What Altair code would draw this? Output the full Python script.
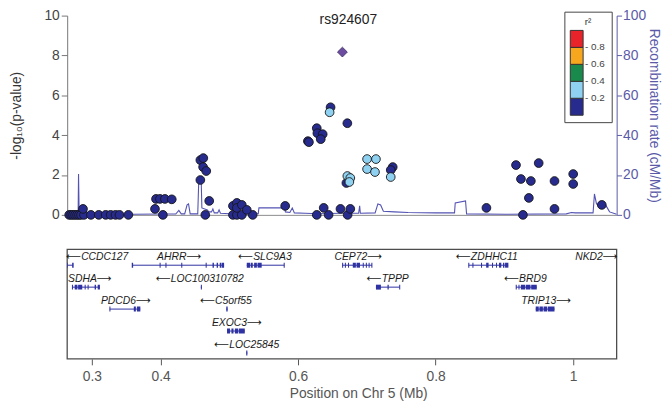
import altair as alt
import pandas as pd

FONT = "Liberation Sans"

# ---------------- association results ----------------
snp_pos = [0.2670, 0.2699, 0.2727, 0.2756, 0.2785, 0.2813, 0.2842, 0.2871, 0.2885,
           0.2986, 0.3100, 0.3201, 0.3273, 0.3344, 0.3402, 0.3531,
           0.3918, 0.3933, 0.3990, 0.4062, 0.4162, 0.4033,
           0.4578, 0.4621, 0.4618, 0.4664, 0.4578, 0.4707, 0.4650,
           0.5052, 0.5109, 0.5109, 0.5181, 0.5253, 0.5052, 0.5109, 0.5181, 0.5339,
           0.5812, 0.6271, 0.6372, 0.6443,
           0.6142, 0.6157, 0.6271, 0.6280, 0.6357, 0.6329,
           0.6472, 0.6458, 0.6716, 0.6616, 0.6759, 0.6720,
           0.6702, 0.6716, 0.6759, 0.6745,
           0.7003, 0.7132, 0.7003, 0.7118,
           0.7376, 0.7347, 0.7347,
           0.8739, 0.9169, 0.9241, 0.9385, 0.9499, 0.9356, 0.9270,
           0.9729, 0.9729, 1.0001, 1.0001, 1.0417]
snp_logp = [0, 0, 0, 0, 0, 0, 0, 0.3, 0,
            0, 0, 0, 0, 0, 0, 0,
            0.3, 0.8, 0.8, 0.8, 0.78, 0,
            2.75, 2.85, 2.4, 2.2, 1.75, 0.7, 0,
            0.45, 0.6, 0.35, 0.5, 0.25, 0, 0, 0, 0,
            0.45, 0, 0.35, 0,
            3.7, 3.65, 4.35, 4.1, 4.05, 3.8,
            5.4, 5.15, 4.6, 0.3, 0.3, 0,
            1.6, 1.95, 1.85, 1.65,
            2.8, 2.8, 2.3, 2.15,
            2.4, 2.25, 1.9,
            0.35, 2.5, 1.8, 1.7, 2.6, 0.85, 0,
            1.7, 0.3, 2.05, 1.55, 0.5]
snp_r2 = [0.05, 0.05, 0.05, 0.05, 0.05, 0.05, 0.05, 0.1, 0.05,
          0.05, 0.05, 0.05, 0.05, 0.05, 0.05, 0.05,
          0.1, 0.1, 0.1, 0.1, 0.1, 0.05,
          0.1, 0.1, 0.1, 0.1, 0.1, 0.1, 0.05,
          0.1, 0.1, 0.1, 0.1, 0.1, 0.05, 0.05, 0.05, 0.05,
          0.1, 0.05, 0.1, 0.05,
          0.1, 0.1, 0.15, 0.15, 0.15, 0.15,
          0.15, 0.3, 0.15, 0.1, 0.1, 0.05,
          0.15, 0.3, 0.3, 0.3,
          0.3, 0.3, 0.3, 0.3,
          0.15, 0.15, 0.3,
          0.05, 0.1, 0.1, 0.1, 0.1, 0.1, 0.05,
          0.1, 0.05, 0.1, 0.1, 0.05]

lead_snp = ["rs924607"]
lead_pos = [0.6644]
lead_logp = [8.17]

# ---------------- recombination rate ----------------
rec_pos = [0.2641, 0.2800, 0.2806, 0.2815, 0.2850, 0.2880, 0.3000, 0.3600, 0.4000,
           0.4220, 0.4265, 0.4300, 0.4350, 0.4385, 0.4406, 0.4430, 0.4540,
           0.4555, 0.4590, 0.4600, 0.4680, 0.4700, 0.4740, 0.4760, 0.4780,
           0.4830, 0.4850, 0.4870, 0.5000, 0.5300, 0.5420, 0.5430, 0.5760,
           0.5790, 0.5815, 0.5880, 0.5915, 0.5945, 0.6100, 0.6300, 0.6600,
           0.6880, 0.6895, 0.6905, 0.7120, 0.7160, 0.7200, 0.7240, 0.7400,
           0.7600, 0.8000, 0.8275, 0.8285, 0.8435, 0.8450, 0.9000, 0.9900,
           0.9975, 1.0030, 1.0290, 1.0310, 1.0340, 1.0420, 1.0450, 1.0480,
           1.0530, 1.0633]
rec_rate = [0.3, 0.3, 20.5, 1.0, 3.5, 0.8, 0.5, 0.3, 0.4,
            0.4, 2.2, 0.5, 0.5, 5.0, 5.5, 0.5, 0.5,
            17.5, 17.5, 3.5, 2.5, 1.5, 1.5, 3.0, 1.0,
            1.0, 2.5, 0.8, 0.6, 0.6, 0.6, 3.5, 3.5,
            5.5, 1.5, 1.2, 3.5, 1.0, 0.8, 0.6, 0.8,
            0.8, 4.5, 0.8, 1.0, 5.5, 5.0, 1.8, 1.5,
            1.2, 1.0, 1.0, 6.0, 7.0, 0.5, 0.3, 0.5,
            1.2, 1.0, 1.0, 10.5, 5.5, 5.0, 6.0, 4.5,
            1.5, 0.3]

# ---------------- genes ----------------
gene_name = ["CCDC127", "AHRR", "SLC9A3", "CEP72", "ZDHHC11", "NKD2",
             "SDHA", "LOC100310782", "TPPP", "BRD9",
             "PDCD6", "C5orf55", "TRIP13", "EXOC3", "LOC25845"]
gene_start = [0.2600, 0.3588, 0.5253, 0.6644, 0.8481, 1.0750,
              0.2713, 0.4585, 0.7132, 0.9169,
              0.3258, 0.4955, 0.9456, 0.4966, 0.5245]
gene_end = [0.2727, 0.4923, 0.5798, 0.7075, 0.9055, 1.1200,
            0.3115, 0.4600, 0.7476, 0.9471,
            0.3703, 0.4975, 0.9729, 0.5224, 0.5262]
gene_row = [1, 1, 1, 1, 1, 1, 2, 2, 2, 2, 3, 3, 3, 4, 5]
gene_strand = ["-", "+", "-", "+", "-", "+", "+", "-", "-", "-", "+", "-", "+", "+", "-"]
gene_label_pos = [0.3079, 0.4270, 0.5518, 0.6874, 0.8746, 1.0339,
                  0.2971, 0.4571, 0.7304, 0.9306,
                  0.3495, 0.4951, 0.9607, 0.5109, 0.5253]

exon_gene = (["CCDC127"] * 2 + ["AHRR"] * 9 + ["SLC9A3"] * 5 + ["CEP72"] * 9 +
             ["ZDHHC11"] * 9 + ["SDHA"] * 7 + ["LOC100310782"] + ["TPPP"] * 3 +
             ["BRD9"] * 5 + ["PDCD6"] * 3 + ["C5orf55"] + ["TRIP13"] * 4 +
             ["EXOC3"] * 4 + ["LOC25845"])
exon_start = [0.2600, 0.2713,
              0.3580, 0.3985, 0.4070, 0.4300, 0.4655, 0.4755, 0.4815, 0.4860, 0.4892,
              0.5253, 0.5310, 0.5360, 0.5410, 0.5790,
              0.6640, 0.6680, 0.6725, 0.6795, 0.6850, 0.6940, 0.6985, 0.7025, 0.7065,
              0.8475, 0.8535, 0.8660, 0.8735, 0.8820, 0.8878, 0.8922, 0.8980, 0.9010,
              0.2710, 0.2750, 0.2800, 0.2895, 0.2938, 0.3040, 0.3085,
              0.4585,
              0.7132, 0.7300, 0.7470,
              0.9165, 0.9205, 0.9240, 0.9310, 0.9390,
              0.3255, 0.3610, 0.3655,
              0.4955,
              0.9456, 0.9510, 0.9570, 0.9630,
              0.4966, 0.5030, 0.5080, 0.5140,
              0.5245]
exon_end = [0.2650, 0.2735,
            0.3600, 0.4000, 0.4085, 0.4315, 0.4670, 0.4775, 0.4835, 0.4885, 0.4923,
            0.5300, 0.5340, 0.5400, 0.5470, 0.5805,
            0.6655, 0.6695, 0.6740, 0.6840, 0.6900, 0.6955, 0.7000, 0.7040, 0.7080,
            0.8490, 0.8550, 0.8675, 0.8770, 0.8835, 0.8893, 0.8955, 0.9000, 0.9058,
            0.2725, 0.2790, 0.2860, 0.2910, 0.2953, 0.3060, 0.3117,
            0.4600,
            0.7204, 0.7318, 0.7485,
            0.9180, 0.9220, 0.9300, 0.9380, 0.9471,
            0.3270, 0.3640, 0.3705,
            0.4975,
            0.9500, 0.9560, 0.9620, 0.9729,
            0.5010, 0.5060, 0.5130, 0.5224,
            0.5262]

r2_breaks = [0.2, 0.4, 0.6, 0.8]
r2_colors = ["#272b8d", "#8fd1f1", "#1a8a4c", "#f6a71e", "#e8232a"]

x_domain = [0.2641, 1.0633]
x_ticks = [0.3, 0.4, 0.6, 0.8, 1.0]
p_ticks = [0, 2, 4, 6, 8, 10]
rec_ticks = [0, 20, 40, 60, 80, 100]

# ---------------- tables ----------------
snp_df = pd.DataFrame({"pos": snp_pos, "logp": snp_logp, "r2": snp_r2}).sort_values("r2", kind="stable")
lead_df = pd.DataFrame({"snp": lead_snp, "pos": lead_pos, "logp": lead_logp})
rec_df = pd.DataFrame({"pos": rec_pos, "rate": rec_rate})
gene_df = pd.DataFrame({"name": gene_name, "start": gene_start, "end": gene_end,
                        "row": gene_row, "strand": gene_strand, "label_pos": gene_label_pos})
gene_df["label"] = [("\u27f5" + n) if s == "-" else (n + "\u27f6")
                    for n, s in zip(gene_df["name"], gene_df["strand"])]
exon_df = pd.DataFrame({"name": exon_gene, "start": exon_start, "end": exon_end}).merge(
    gene_df[["name", "row"]], on="name")

W, H1, H2 = 557, 202, 111
RECOMB = "#5353b4"
RAX = "#5a5aa8"
GENE = "#2f32a2"

xs = alt.Scale(domain=x_domain, nice=False, zero=False)
x_top_axis = alt.Axis(title=None, labels=False, ticks=False, grid=False,
                      domainColor="#8a8a8a", domainWidth=1)

recomb = alt.Chart(rec_df).mark_line(color=RECOMB, strokeWidth=1.1, clip=True).encode(
    x=alt.X("pos:Q", scale=xs, axis=x_top_axis),
    y=alt.Y("rate:Q", scale=alt.Scale(domain=[0, 100], nice=False),
            axis=alt.Axis(orient="right", values=rec_ticks, title="Recombination rate (cM/Mb)",
                          grid=False, domainColor=RAX, tickColor=RAX, labelColor=RAX,
                          titleColor=RAX, tickSize=5, labelPadding=1, titlePadding=1,
                          labelFontSize=14, titleFontSize=14, titleFontWeight="normal")),
)

pts = alt.Chart(snp_df).mark_circle(size=78, stroke="#151515", strokeWidth=0.9, opacity=1).encode(
    x=alt.X("pos:Q", scale=xs, axis=x_top_axis),
    y=alt.Y("logp:Q", scale=alt.Scale(domain=[0, 10], nice=False),
            axis=alt.Axis(orient="left", values=p_ticks, title="-log\u2081\u2080(p-value)",
                          grid=False, domainColor="#777777", tickColor="#777777",
                          labelColor="#444444", titleColor="#333333", tickSize=6,
                          labelPadding=2, titlePadding=21, labelFontSize=14,
                          titleFontSize=14, titleFontWeight="normal")),
    color=alt.Color("r2:Q",
                    scale=alt.Scale(type="threshold", domain=r2_breaks, range=r2_colors),
                    legend=alt.Legend(type="gradient", title="r\u00b2", orient="none",
                                      legendX=504, legendY=-4, direction="vertical",
                                      gradientLength=86, gradientThickness=13,
                                      gradientStrokeColor="#333333", gradientStrokeWidth=1,
                                      fillColor="white", strokeColor="#444444", padding=6,
                                      titleFontSize=10, titleFontWeight="normal",
                                      titleAnchor="middle", titlePadding=3,
                                      titleColor="#333333", labelFontSize=10, labelOffset=2,
                                      labelColor="#444444",
                                      labelExpr="(isValid(datum.label) && datum.label != 'null' && datum.label != '') ? '- ' + datum.label : ''")),
)

lead = alt.Chart(lead_df).mark_point(shape="diamond", filled=True, size=100, color="#6b4c9e",
                                     stroke="#3a2a62", strokeWidth=0.8, opacity=1).encode(
    x=alt.X("pos:Q", scale=xs, axis=x_top_axis),
    y=alt.Y("logp:Q", scale=alt.Scale(domain=[0, 10], nice=False), axis=None),
)

title_txt = alt.Chart(lead_df).mark_text(fontSize=14, color="#222222", baseline="middle").encode(
    text="snp:N", x=alt.value(285), y=alt.value(5),
)

top = alt.layer(recomb, pts, lead, title_txt).resolve_scale(y="independent").properties(
    width=W, height=H1)

# ---------------- gene panel ----------------
ys = alt.Scale(domain=[0.28, 5.27], reverse=True, nice=False, zero=False)
x_bot_axis = alt.Axis(values=x_ticks, format="~g", title="Position on Chr 5 (Mb)", grid=False,
                      domain=False, tickColor="#555555", tickSize=6, labelColor="#555555",
                      titleColor="#555555", labelFontSize=14, titleFontSize=14,
                      titleFontWeight="normal", labelPadding=5, titlePadding=3, titleX=295,
                      labelFlush=False)

frame = alt.Chart(pd.DataFrame({"v": [0]})).mark_rect(
    fill="transparent", stroke="#4d4d4d", strokeWidth=1.3).encode(
    x=alt.value(0), x2=alt.value(W), y=alt.value(0), y2=alt.value(H2))

gene_lines = alt.Chart(gene_df).mark_rule(color=GENE, strokeWidth=1, clip=True).encode(
    x=alt.X("start:Q", scale=xs, axis=x_bot_axis), x2="end:Q",
    y=alt.Y("row:Q", scale=ys, axis=None),
)
exons = alt.Chart(exon_df).mark_rule(color=GENE, strokeWidth=5, strokeCap="butt", clip=True).encode(
    x=alt.X("start:Q", scale=xs, axis=x_bot_axis), x2="end:Q",
    y=alt.Y("row:Q", scale=ys, axis=None),
)
labels = alt.Chart(gene_df).mark_text(fontStyle="italic", fontSize=10.5, color="#1a1a1a",
                                      font="Liberation Sans, DejaVu Sans",
                                      dy=-8, baseline="middle").encode(
    x=alt.X("label_pos:Q", scale=xs, axis=x_bot_axis),
    y=alt.Y("row:Q", scale=ys, axis=None),
    text="label:N",
)

genes = alt.layer(frame, gene_lines, exons, labels).properties(width=W, height=H2)

chart = alt.vconcat(top, genes, spacing=35, bounds="flush").resolve_scale(
    color="independent").properties(
    padding={"left": 0, "top": -3, "right": 3, "bottom": 0}
).configure(font=FONT).configure_view(stroke="transparent")

chart.save("out.html", embed_options={"renderer": "svg", "actions": False})
